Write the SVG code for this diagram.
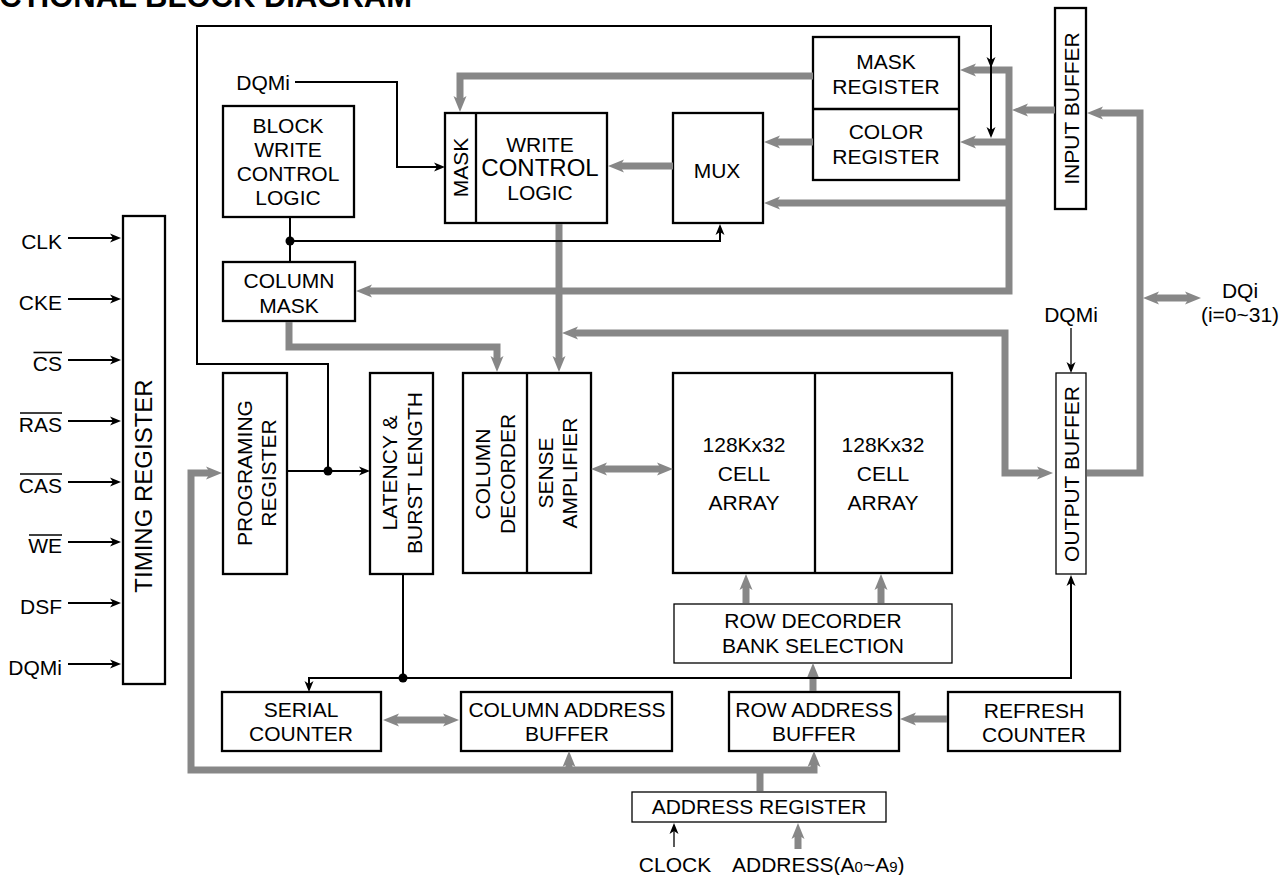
<svg xmlns="http://www.w3.org/2000/svg" width="1287" height="875" viewBox="0 0 1287 875">
<style>
text{font-family:"Liberation Sans",Arial,Helvetica,sans-serif;font-size:21px;fill:#000}
.m{text-anchor:middle}
.e{text-anchor:end}
.box{fill:#fff;stroke:#000;stroke-width:2.3}
.thin{fill:#fff;stroke:#000;stroke-width:1.3}
.div{stroke:#000;stroke-width:2.3}
.g{fill:none;stroke:#878787;stroke-width:7}
.b{fill:none;stroke:#000;stroke-width:2}
.bt{fill:none;stroke:#000;stroke-width:1.3}
.ga{marker-end:url(#ga)}
.gs{marker-start:url(#ga)}
.ba{marker-end:url(#ba)}
.ob{stroke:#000;stroke-width:1.6}
</style>
<defs>
<marker id="ga" markerUnits="userSpaceOnUse" markerWidth="20" markerHeight="16" viewBox="0 -8 20 16" refX="5" refY="0" orient="auto-start-reverse"><path d="M0,-6.5 L16,0 L0,6.5 L4,0 Z" fill="#878787"/></marker>
<marker id="ba" markerUnits="userSpaceOnUse" markerWidth="12" markerHeight="10" viewBox="0 -5 12 10" refX="5" refY="0" orient="auto-start-reverse"><path d="M0,-4.5 L11,0 L0,4.5 L3,0 Z" fill="#000"/></marker>
</defs>

<text x="412" y="7" class="e" style="font-size:31px;font-weight:bold">CTIONAL BLOCK DIAGRAM</text>

<g id="inputs">
<text x="62" y="249" class="e">CLK</text>
<text x="62" y="310" class="e">CKE</text>
<text x="62" y="371" class="e">CS</text>
<text x="62" y="432" class="e">RAS</text>
<text x="62" y="493" class="e">CAS</text>
<text x="62" y="553" class="e">WE</text>
<text x="62" y="614" class="e">DSF</text>
<text x="62" y="675" class="e">DQMi</text>
<line class="ob" x1="33.5" y1="352.5" x2="62" y2="352.5"/>
<line class="ob" x1="20" y1="413" x2="62" y2="413"/>
<line class="ob" x1="20" y1="474" x2="62" y2="474"/>
<line class="ob" x1="29" y1="535" x2="62" y2="535"/>
<text x="290" y="90" class="e">DQMi</text>
<text x="1071" y="322" class="m">DQMi</text>
<text x="1240" y="298" class="m">DQi</text>
<text x="1240" y="322" class="m">(i=0~31)</text>
<text x="675" y="872" class="m">CLOCK</text>
<text x="732" y="872">ADDRESS(A<tspan style="font-size:15px">0</tspan>~A<tspan style="font-size:15px">9</tspan>)</text>
</g>

<g id="timing-register">
<rect class="box" x="123" y="216" width="42" height="468"/>
<text transform="translate(152,486) rotate(-90)" class="m" style="font-size:24px">TIMING REGISTER</text>
</g>

<g id="block-write-control-logic">
<rect class="box" x="223" y="106" width="131" height="111"/>
<text x="288" y="133" class="m">BLOCK</text>
<text x="288" y="157" class="m">WRITE</text>
<text x="288" y="181" class="m">CONTROL</text>
<text x="288" y="205" class="m">LOGIC</text>
</g>

<g id="write-control-logic">
<rect class="box" x="445" y="113" width="162" height="110"/>
<line class="div" x1="476" y1="113" x2="476" y2="223"/>
<text transform="translate(468,167.5) rotate(-90)" class="m">MASK</text>
<text x="540" y="152" class="m">WRITE</text>
<text x="540" y="176" class="m" style="font-size:24px">CONTROL</text>
<text x="540" y="199.5" class="m">LOGIC</text>
</g>

<g id="mux">
<rect class="box" x="673" y="113" width="90" height="110"/>
<text x="717" y="177.5" class="m">MUX</text>
</g>

<g id="mask-color-register">
<rect class="box" x="813" y="37" width="146" height="143"/>
<line class="div" x1="813" y1="109" x2="959" y2="109"/>
<text x="886" y="69" class="m">MASK</text>
<text x="886" y="94" class="m">REGISTER</text>
<text x="886" y="139" class="m">COLOR</text>
<text x="886" y="164" class="m">REGISTER</text>
</g>

<g id="input-buffer">
<rect class="box" x="1055" y="8" width="31" height="201"/>
<text transform="translate(1079,108.5) rotate(-90)" class="m">INPUT BUFFER</text>
</g>

<g id="column-mask">
<rect class="box" x="223" y="262" width="132" height="59"/>
<text x="289" y="288" class="m">COLUMN</text>
<text x="289" y="312.5" class="m">MASK</text>
</g>

<g id="programing-register">
<rect class="box" x="223" y="373" width="64" height="201"/>
<text transform="translate(252,473) rotate(-90)" class="m">PROGRAMING</text>
<text transform="translate(276,473) rotate(-90)" class="m">REGISTER</text>
</g>

<g id="latency-burst-length">
<rect class="box" x="370" y="373" width="63" height="201"/>
<text transform="translate(397,473) rotate(-90)" class="m">LATENCY &amp;</text>
<text transform="translate(422,473) rotate(-90)" class="m">BURST LENGTH</text>
</g>

<g id="column-decoder-sense-amplifier">
<rect class="box" x="463" y="373" width="128" height="200"/>
<line class="div" x1="527" y1="373" x2="527" y2="573"/>
<text transform="translate(490,474) rotate(-90)" class="m">COLUMN</text>
<text transform="translate(515,474) rotate(-90)" class="m">DECORDER</text>
<text transform="translate(553,473) rotate(-90)" class="m">SENSE</text>
<text transform="translate(577,473) rotate(-90)" class="m">AMPLIFIER</text>
</g>

<g id="cell-array">
<rect class="box" x="673" y="373" width="279" height="200"/>
<line class="div" x1="815" y1="373" x2="815" y2="573"/>
<text x="744" y="452" class="m">128Kx32</text>
<text x="744" y="481" class="m">CELL</text>
<text x="744" y="509.5" class="m">ARRAY</text>
<text x="883" y="452" class="m">128Kx32</text>
<text x="883" y="481" class="m">CELL</text>
<text x="883" y="509.5" class="m">ARRAY</text>
</g>

<g id="row-decoder">
<rect class="thin" x="674" y="604" width="278" height="59"/>
<text x="813" y="628" class="m">ROW DECORDER</text>
<text x="813" y="653" class="m">BANK SELECTION</text>
</g>

<g id="output-buffer">
<rect class="thin" x="1056" y="373" width="30" height="201"/>
<text transform="translate(1079,474) rotate(-90)" class="m">OUTPUT BUFFER</text>
</g>

<g id="serial-counter">
<rect class="box" x="222" y="692" width="159" height="59"/>
<text x="301" y="717" class="m">SERIAL</text>
<text x="301" y="741" class="m">COUNTER</text>
</g>

<g id="column-address-buffer">
<rect class="box" x="461" y="692" width="211" height="59"/>
<text x="567" y="717" class="m">COLUMN ADDRESS</text>
<text x="567" y="741" class="m">BUFFER</text>
</g>

<g id="row-address-buffer">
<rect class="box" x="729" y="692" width="170" height="59"/>
<text x="814" y="717" class="m">ROW ADDRESS</text>
<text x="814" y="741" class="m">BUFFER</text>
</g>

<g id="refresh-counter">
<rect class="box" x="948" y="692" width="172" height="59"/>
<text x="1034" y="718" class="m">REFRESH</text>
<text x="1034" y="741.5" class="m">COUNTER</text>
</g>

<g id="address-register">
<rect class="thin" x="632" y="792" width="254" height="30"/>
<text x="759" y="814" class="m">ADDRESS REGISTER</text>
</g>

<g id="connectors">
<path class="g ga" d="M813,76 H460 V101"/>
<path class="g ga gs" d="M971,70 H1009 V291 H367"/>
<path class="g ga" d="M1009,142 H971"/>
<path class="g ga" d="M1055,110 H1023"/>
<path class="g ga" d="M813,142 H775"/>
<path class="g ga" d="M1009,203 H775"/>
<path class="g ga" d="M673,166 H619"/>
<path class="g ga" d="M559,224 V361"/>
<path class="g ga" d="M289,322 V347 H497 V361"/>
<path class="g ga gs" d="M1042,473 H1005 V333 H573"/>
<path class="g ga gs" d="M602,469 H662"/>
<path class="g ga" d="M746,603 V585"/>
<path class="g ga" d="M881,603 V585"/>
<path class="g ga" d="M813,691 V674"/>
<path class="g ga" d="M947,719 H911"/>
<path class="g ga gs" d="M394,720 H448"/>
<path class="g ga gs" d="M814,762 V770 H191 V473 H211"/>
<path class="g ga" d="M569,770 V762"/>
<path class="g" d="M760,791 V770"/>
<path class="g ga" d="M798,849 V834"/>
<path class="g gs" d="M1098,113 H1140 V473 H1087"/>
<path class="g ga gs" d="M1154,298 H1190"/>
<path class="b ba" d="M68,238 H115"/>
<path class="b ba" d="M68,299 H115"/>
<path class="b ba" d="M68,360 H115"/>
<path class="b ba" d="M68,421 H115"/>
<path class="b ba" d="M68,482 H115"/>
<path class="b ba" d="M68,542 H115"/>
<path class="b ba" d="M68,603 H115"/>
<path class="b ba" d="M68,664 H115"/>
<path class="b ba" d="M295,82 H397 V167 H439"/>
<path class="b ba" d="M328,471 V364 H197 V26 H991 V132"/>
<path class="b ba" d="M991,40 V62"/>
<path class="b ba" d="M288,471 H364"/>
<path class="b" d="M290,218 V261"/>
<path class="b ba" d="M290,241 H720 V230"/>
<path class="b ba" d="M403,575 V678 H309 V686"/>
<path class="b ba" d="M403,678 H1071 V581"/>
<path class="bt ba" d="M1071,328 V367"/>
<path class="bt ba" d="M674,847 V829"/>
<circle cx="328" cy="471" r="4.5"/>
<circle cx="290" cy="241" r="4.5"/>
<circle cx="403" cy="678" r="4.5"/>
</g>
</svg>
